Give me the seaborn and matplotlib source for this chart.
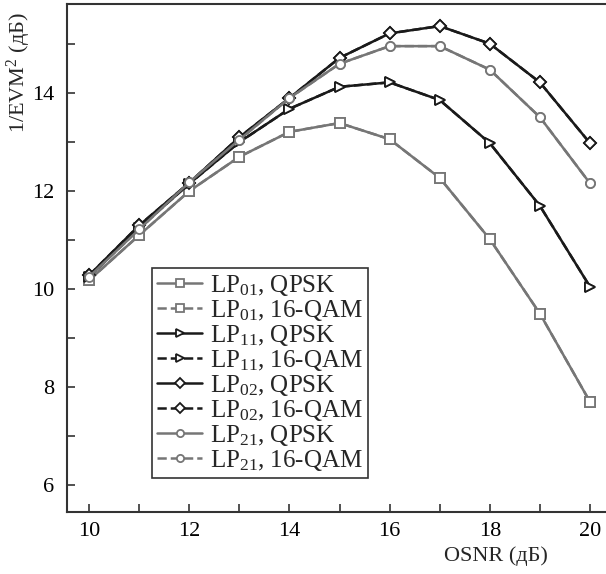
import matplotlib
matplotlib.use("Agg")
import matplotlib.pyplot as plt
import seaborn as sns
import numpy as np

osnr = [10, 11, 12, 13, 14, 15, 16, 17, 18, 19, 20]
lp01 = [10.18, 11.10, 12.00, 12.70, 13.21, 13.39, 13.06, 12.27, 11.02, 9.50, 7.70]
lp11 = [10.25, 11.25, 12.15, 13.00, 13.68, 14.13, 14.22, 13.86, 12.98, 11.70, 10.05]
lp02 = [10.28, 11.30, 12.17, 13.10, 13.90, 14.72, 15.22, 15.37, 15.01, 14.22, 12.98]
lp21 = [10.25, 11.22, 12.18, 13.05, 13.90, 14.60, 14.96, 14.96, 14.48, 13.51, 12.16]
# 16-QAM curves coincide with QPSK curves in the figure
lp01_16 = list(lp01)
lp11_16 = list(lp11)
lp02_16 = list(lp02)
lp21_16 = list(lp21)

sns.set_style("ticks")
plt.rcParams['font.family'] = ['Liberation Serif', 'DejaVu Serif']
plt.rcParams['mathtext.fontset'] = 'custom'
plt.rcParams['mathtext.rm'] = 'Liberation Serif'
plt.rcParams['mathtext.it'] = 'Liberation Serif:italic'

GRAY = '#767676'
BLACK = '#1a1a1a'

fig = plt.figure(figsize=(6.06, 5.74), dpi=100)
ax = fig.add_axes([67/606, 62/574, 538/606, 508/574])

series = [
    (lp01, GRAY, 's', '-', r'LP$_{\mathregular{01}}$, QPSK'),
    (lp01_16, GRAY, 's', '--', r'LP$_{\mathregular{01}}$, 16-QAM'),
    (lp11, BLACK, '>', '-', r'LP$_{\mathregular{11}}$, QPSK'),
    (lp11_16, BLACK, '>', '--', r'LP$_{\mathregular{11}}$, 16-QAM'),
    (lp02, BLACK, 'D', '-', r'LP$_{\mathregular{02}}$, QPSK'),
    (lp02_16, BLACK, 'D', '--', r'LP$_{\mathregular{02}}$, 16-QAM'),
    (lp21, GRAY, 'o', '-', r'LP$_{\mathregular{21}}$, QPSK'),
    (lp21_16, GRAY, 'o', '--', r'LP$_{\mathregular{21}}$, 16-QAM'),
]
sizes = {'s': 6.5, '>': 7, 'D': 6.5, 'o': 6.5}
for vals, col, mk, ls, lab in series:
    sns.lineplot(x=osnr, y=vals, ax=ax, color=col, marker=mk, linestyle=ls,
                 linewidth=1.8, markersize=sizes[mk], markerfacecolor='white',
                 markeredgecolor=col, markeredgewidth=1.3, label=lab,
                 zorder=3 if ls == '-' else 2)

ax.set_xlim(9.56, 20.3)
ax.set_ylim(5.45, 15.82)
ax.set_xticks(np.arange(10, 21, 2))
ax.set_xticks(np.arange(10, 21, 1), minor=True)
ax.set_yticks(np.arange(6, 15, 2))
ax.set_yticks(np.arange(6, 16, 1), minor=True)
ax.tick_params(which='both', direction='in', length=6, width=1.2, color='#333333',
               labelsize=16, labelcolor='black')
ax.tick_params(axis='x', pad=7)
ax.tick_params(axis='y', pad=9)
for s in ['left', 'bottom', 'top']:
    ax.spines[s].set_color('#333333')
    ax.spines[s].set_linewidth(1.5)
ax.spines['right'].set_visible(False)

ax.set_xlabel('OSNR (дБ)', fontsize=16)
ax.xaxis.set_label_coords((496 - 67) / 538, -0.068)
ax.set_ylabel('1/EVM$^{\\mathregular{2}}$ (дБ)', fontsize=16)
ax.yaxis.set_label_coords(-0.063, (512 - 73) / 508)

leg = ax.legend(loc='upper left', bbox_to_anchor=(0.158, 0.480), borderaxespad=0,
                fontsize=18, frameon=True, fancybox=False, framealpha=1,
                edgecolor='#333333', labelspacing=0.0, handlelength=1.8,
                handletextpad=0.3, borderpad=0.2, markerscale=0.8)
leg.get_frame().set_linewidth(1.2)

fig.savefig('out.png', dpi=100)
